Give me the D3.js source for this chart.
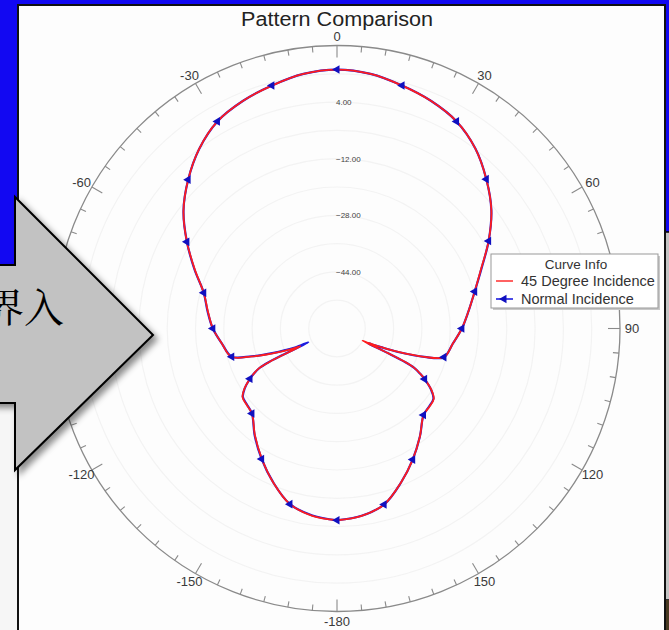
<!DOCTYPE html>
<html>
<head>
<meta charset="utf-8">
<script src="https://cdn.jsdelivr.net/npm/d3@7"></script>
<style>
  html, body { margin: 0; padding: 0; background: #1208f2; }
  svg { display: block; }
</style>
</head>
<body>
<svg id="chart" width="669" height="630"></svg>
<script>
// ---- data -------------------------------------------------------------
// Pattern angle in degrees (0 = top, clockwise positive)
const angles = [
  -180, -172.5, -165, -157.5, -150, -142.5, -135, -130, -126, -123, -120,
  -118.5, -117, -116.2, -115.8, -114.5, -113, -111, -108, -105, -97.5, -90,
  -82.5, -75, -67.5, -60, -52.5, -45, -37.5, -30, -22.5, -15, -7.5, 0,
  7.5, 15, 22.5, 30, 37.5, 45, 52.5, 60, 67.5, 75, 82.5, 90, 97.5, 105,
  108, 111, 113, 114.5, 115.5, 115.8, 116.2, 117, 118.5, 120, 123, 126,
  130, 135, 142.5, 150, 157.5, 165, 172.5, 180
];
// Gain in dB, 45 degree incidence
const incidence45 = [
  -5.8, -6.6, -8.6, -12.9, -17.5, -21.9, -26.0, -26.6, -27.0, -28.8, -31.6,
  -33.2, -35.3, -39.5, -48.5, -46.3, -43.8, -40.2, -34.3, -29.1, -27.2, -24.9,
  -23.2, -21.0, -16.5, -11.0, -5.3, -0.5, 4.0, 7.6, 9.6, 11.1, 12.6, 13.2,
  12.6, 11.1, 9.6, 7.6, 4.2, -0.3, -5.0, -10.5, -15.9, -19.7, -22.5, -24.7, -27.0, -28.7,
  -34.1, -41.7, -46.8, -50.0, -52.0, -44.0, -38.5, -35.5, -33.2, -31.4, -28.2, -26.2,
  -25.8, -25.4, -21.5, -17.2, -12.8, -8.5, -6.6, -5.8
];
// Gain in dB, normal incidence
const normalIncidence = [
  -5.8, -6.7, -8.6, -12.9, -17.4, -21.8, -26.0, -26.7, -27.1, -28.9, -31.6,
  -33.3, -35.4, -38.6, -51.0, -47.2, -44.8, -40.8, -34.6, -29.2, -27.2, -24.9,
  -23.1, -21.0, -16.4, -11.0, -5.3, -0.5, 4.0, 7.6, 9.6, 11.1, 12.6, 13.2,
  12.6, 11.1, 9.6, 7.6, 4.2, -0.3, -5.0, -10.5, -15.8, -19.7, -22.5, -24.7, -27.0, -28.7,
  -34.0, -41.5, -46.5, -49.3, -50.5, -44.5, -38.8, -35.6, -33.3, -31.4, -28.3, -26.3,
  -25.9, -25.4, -21.5, -17.2, -12.8, -8.5, -6.6, -5.8
];
const radialTicks = [4, -12, -28, -44];
const gridLevels = [-52, -44, -36, -28, -20, -12, -4, 4, 12];
// the -90 label sits beneath the arrow shape, so it is left out
const angleLabels = [0, 30, 60, 90, 120, 150, -180, -150, -120, -60, -30];
const seriesNames = ["45 Degree Incidence", "Normal Incidence"];

// ---- layout -----------------------------------------------------------
const svg = d3.select("#chart");
const W = 669, H = 630;
const cx = 337, cy = 328.5, R = 283;
const rad = d => d * Math.PI / 180;
const r = d3.scaleLinear().domain([-60, 20]).range([0, R]);

const defs = svg.append("defs");
const shadow = defs.append("filter").attr("id", "shadow")
  .attr("x", "-20%").attr("y", "-20%").attr("width", "150%").attr("height", "150%");
shadow.append("feDropShadow").attr("dx", 4).attr("dy", 4)
  .attr("stdDeviation", 3).attr("flood-color", "#000").attr("flood-opacity", 0.45);

// slide background
svg.append("rect").attr("width", W).attr("height", H).attr("fill", "#1208f2");
// lower-left white block
svg.append("rect").attr("x", 0).attr("y", 403).attr("width", 20).attr("height", 227)
  .attr("fill", "#f6f6f6");
// right edge panel
svg.append("rect").attr("x", 665).attr("y", 232).attr("width", 6).attr("height", 368)
  .attr("fill", "#c4c4c4").attr("stroke", "#000").attr("stroke-width", 1.5);
svg.append("rect").attr("x", 665).attr("y", 600).attr("width", 6).attr("height", 30)
  .attr("fill", "#4a3a22");

// chart panel
svg.append("rect").attr("x", 18).attr("y", 5).attr("width", 647).attr("height", 640)
  .attr("fill", "#fdfdfd").attr("stroke", "#111").attr("stroke-width", 2);

svg.append("text").attr("x", cx).attr("y", 26).attr("text-anchor", "middle")
  .attr("font-family", "Liberation Sans, Arial, sans-serif").attr("font-size", 20)
  .attr("textLength", 192).attr("lengthAdjust", "spacingAndGlyphs")
  .attr("fill", "#222").text("Pattern Comparison");

const g = svg.append("g").attr("transform", `translate(${cx},${cy})`);

// faint grid rings
g.selectAll("circle.grid").data(gridLevels).join("circle")
  .attr("class", "grid").attr("r", d => r(d))
  .attr("fill", "none").attr("stroke", "#f3f3f3").attr("stroke-width", 1.2);

// outer ring
g.append("circle").attr("r", R).attr("fill", "none")
  .attr("stroke", "#8a8a8a").attr("stroke-width", 1.3);

// angular ticks every 5 degrees
g.selectAll("line.tick").data(d3.range(-175, 185, 5)).join("line")
  .attr("class", "tick")
  .attr("x1", d => Math.sin(rad(d)) * R)
  .attr("y1", d => -Math.cos(rad(d)) * R)
  .attr("x2", d => Math.sin(rad(d)) * (R - (d % 30 === 0 ? 12 : 6)))
  .attr("y2", d => -Math.cos(rad(d)) * (R - (d % 30 === 0 ? 12 : 6)))
  .attr("stroke", "#8a8a8a").attr("stroke-width", 1.1);

// angle labels
g.selectAll("text.ang").data(angleLabels).join("text")
  .attr("class", "ang")
  .attr("x", d => Math.sin(rad(d)) * (R + 12))
  .attr("y", d => -Math.cos(rad(d)) * (R + 9.5))
  .attr("dy", "0.35em").attr("text-anchor", "middle")
  .attr("font-family", "Liberation Sans, Arial, sans-serif").attr("font-size", 13)
  .attr("fill", "#3a3a3a").text(d => d);

// radial labels
g.selectAll("text.rad").data(radialTicks).join("text")
  .attr("class", "rad")
  .attr("x", -1).attr("y", d => -r(d)).attr("dy", "0.35em")
  .attr("font-family", "Liberation Sans, Arial, sans-serif").attr("font-size", 8)
  .attr("fill", "#444").text(d => d3.format(".2f")(d));

// pattern curves
const line = d3.lineRadial().curve(d3.curveCatmullRom.alpha(0.5));
const toPts = vals => angles.map((a, i) => [rad(a), r(vals[i])]);

g.append("path").attr("d", line(toPts(normalIncidence)))
  .attr("fill", "none").attr("stroke", "#1c1ce0").attr("stroke-width", 2.2);
g.append("path").attr("d", line(toPts(incidence45)))
  .attr("fill", "none").attr("stroke", "#ff1c1c").attr("stroke-width", 1.8);

// triangle markers for normal incidence every 15 degrees
const tri = d3.symbol().type(d3.symbolTriangle).size(32);
const markerData = angles.map((a, i) => ({ a, v: normalIncidence[i] }))
  .filter(d => d.a % 15 === 0 && d.a !== -180);
g.selectAll("path.mk").data(markerData).join("path")
  .attr("class", "mk").attr("d", tri)
  .attr("transform", d => `translate(${Math.sin(rad(d.a)) * r(d.v)},${-Math.cos(rad(d.a)) * r(d.v)}) rotate(-90)`)
  .attr("fill", "#1010c0");

// legend
const lg = svg.append("g").attr("transform", "translate(491,254)");
lg.append("rect").attr("x", 2).attr("y", 2).attr("width", 167).attr("height", 54).attr("fill", "#c8c8c8");
lg.append("rect").attr("width", 167).attr("height", 54)
  .attr("fill", "#fff").attr("stroke", "#999").attr("stroke-width", 1);
lg.append("text").attr("x", 85).attr("y", 15).attr("text-anchor", "middle")
  .attr("font-family", "Liberation Sans, Arial, sans-serif").attr("font-size", 13.5)
  .attr("fill", "#333").text("Curve Info");
const rows = lg.selectAll("g.row").data(seriesNames).join("g")
  .attr("class", "row").attr("transform", (d, i) => `translate(0,${27 + i * 18})`);
rows.append("line").attr("x1", 5).attr("x2", 22)
  .attr("stroke", (d, i) => i === 0 ? "#ff3a3a" : "#1c1ce0").attr("stroke-width", 1.6);
rows.filter((d, i) => i === 1).append("path").attr("d", tri)
  .attr("transform", "translate(13,0) rotate(-90)").attr("fill", "#1010c0");
rows.append("text").attr("x", 30).attr("dy", "0.35em")
  .attr("font-family", "Liberation Sans, Arial, sans-serif").attr("font-size", 14.5)
  .attr("fill", "#333").text(d => d);

// block arrow on the left
svg.append("path")
  .attr("d", "M-10,265 L15,265 L15,197 L153,335 L15,470 L15,403 L-10,403 Z")
  .attr("fill", "#c2c2c2").attr("stroke", "#000").attr("stroke-width", 2)
  .attr("filter", "url(#shadow)");
svg.append("text").attr("x", 64).attr("y", 322).attr("text-anchor", "end")
  .attr("font-family", "Noto Serif CJK SC, Noto Sans CJK SC, sans-serif")
  .attr("font-size", 40).attr("fill", "#000").text("界入");
</script>
</body>
</html>
